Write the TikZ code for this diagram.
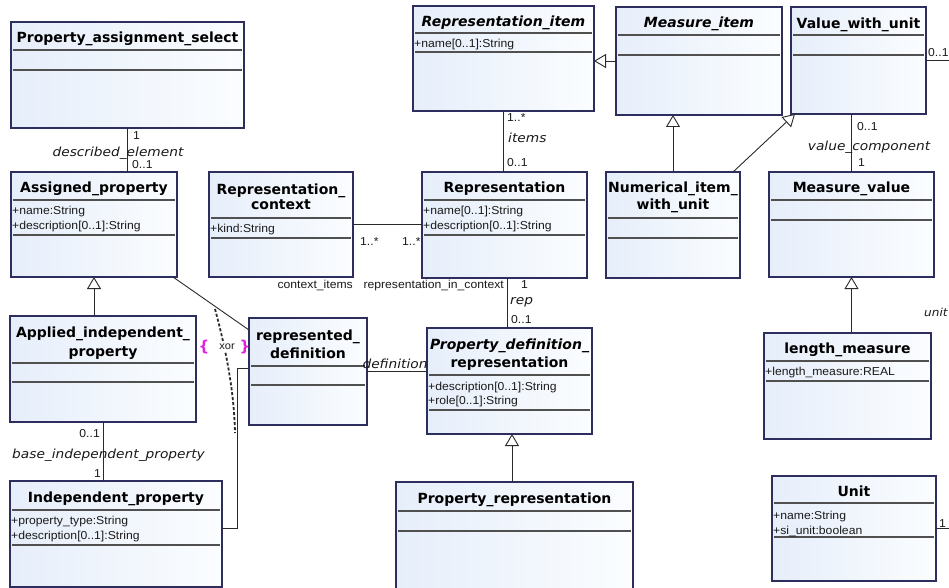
\documentclass[tikz,border=0pt]{standalone}
\usepackage{fontspec}
\setmainfont{Liberation Sans}
\newfontfamily\titlefont{DejaVu Sans}
\newfontfamily\rolefont{DejaVu Sans}[FakeStretch=1.1]
\newfontfamily\lblfont{Liberation Sans}[FakeStretch=1.06]
\usetikzlibrary{arrows.meta}
\definecolor{boxedge}{HTML}{2E2E5E}
\definecolor{boxfillA}{HTML}{E6EEFA}
\definecolor{boxfillB}{HTML}{FBFDFF}
\definecolor{sepgray}{HTML}{505050}
\definecolor{lnk}{HTML}{2A2A2A}
\definecolor{xorpink}{HTML}{E020E0}
\definecolor{txt}{HTML}{1A1A1A}
\tikzset{
  umlbox/.style={draw=boxedge, line width=1.1pt, left color=boxfillA, right color=boxfillB,
    inner sep=0pt, outer sep=0pt, rectangle},
  sepline/.style={draw=sepgray, line width=1.1pt},
  ttl/.style={font=\titlefont\bfseries\fontsize{14}{16}\selectfont, inner sep=0pt, anchor=base, text=black},
  ttli/.style={font=\titlefont\bfseries\itshape\fontsize{14}{16}\selectfont, inner sep=0pt, anchor=base, text=black},
  attr/.style={font=\lblfont\fontsize{11.5}{14}\selectfont, inner sep=0pt, anchor=base west, text=txt},
  mult/.style={font=\lblfont\fontsize{11.5}{14}\selectfont, inner sep=0pt, anchor=base west, text=txt},
  role/.style={font=\rolefont\itshape\fontsize{12.5}{14}\selectfont, inner sep=0pt, anchor=base west, text=txt},
  assoc/.style={draw=lnk, line width=0.9pt},
  gen/.style={draw=lnk, line width=0.9pt, -{Triangle[open, length=12pt, width=14pt, fill=white]}},
}
\newcommand\mkbox[7]{%
  \node[umlbox, minimum width={(#4-#2)*1pt}, minimum height={(#5-#3)*1pt}] (#1) at ({(#2+#4)/2},{(#3+#5)/2}) {};
  \draw[sepline] ({#2+2},#6) -- ({#4-2},#6);
  \draw[sepline] ({#2+2},#7) -- ({#4-2},#7);
}
\begin{document}
\begin{tikzpicture}[x=1pt,y=-1pt]
\useasboundingbox (0,0) rectangle (949,588);
\fill[white] (0,0) rectangle (949,588);
\clip (0,0) rectangle (949,588);

% boxes
\mkbox{PAS}{11}{22}{244}{128}{50}{70}
\mkbox{AP}{11}{172}{177}{277}{200}{235}
\mkbox{RC}{209}{172}{353}{277}{218}{238}
\mkbox{RI}{413}{6}{594}{111}{33}{52}
\mkbox{MI}{616}{7}{782}{115}{35}{55}
\mkbox{VWU}{791}{7}{926}{114}{35}{55}
\mkbox{R}{422}{172}{587}{278}{200}{235}
\mkbox{NIWU}{606}{172}{740}{278}{218}{238}
\mkbox{MV}{769}{172}{934}{277}{200}{220}
\mkbox{AIP}{10}{316}{196}{422}{363}{382}
\mkbox{RD}{249}{318}{367}{425}{366}{385}
\mkbox{PDR}{427}{328}{592}{434}{375}{410}
\mkbox{LM}{764}{333}{931}{439}{361}{381}
\mkbox{IP}{10}{481}{222}{587}{510}{545}
\mkbox{PR}{396}{482}{633}{600}{511}{531}
\mkbox{UN}{772}{476}{936}{581}{503}{537}

% titles
\node[ttl] (tPAS) at (127.5,43) {Property\_assignment\_select};
\node[ttl] (tAP) at (94,192) {Assigned\_property};
\node[ttl] (tRC1) at (281,194) {Representation\_};
\node[ttl] (tRC2) at (281,209) {context};
\node[ttli] (tRI) at (503.5,27) {Representation\_item};
\node[ttli] (tMI) at (699,28) {Measure\_item};
\node[ttl] (tVWU) at (858.5,29) {Value\_with\_unit};
\node[ttl] (tR) at (504.5,192) {Representation};
\node[ttl] (tNIWU1) at (673,193) {Numerical\_item\_};
\node[ttl] (tNIWU2) at (673,209) {with\_unit};
\node[ttl] (tMV) at (851.5,192) {Measure\_value};
\node[ttl] (tAIP1) at (103,337) {Applied\_independent\_};
\node[ttl] (tAIP2) at (103,356) {property};
\node[ttl] (tRD1) at (308,340) {represented\_};
\node[ttl] (tRD2) at (308,358) {definition};
\node[ttli] (tPDR1) at (509.5,349) {Property\_definition\_};
\node[ttl] (tPDR2) at (509.5,367) {representation};
\node[ttl] (tLM) at (847.5,353) {length\_measure};
\node[ttl] (tIP) at (116,502) {Independent\_property};
\node[ttl] (tPR) at (514.5,503) {Property\_representation};
\node[ttl] (tUN) at (854,496) {Unit};

% attributes
\node[attr] (aAP1) at (12,214) {+name:String};
\node[attr] (aAP2) at (12,229) {+description[0..1]:String};
\node[attr] (aRC1) at (210,232) {+kind:String};
\node[attr] (aRI1) at (414,48) {+name[0..1]:String};
\node[attr] (aR1) at (423,214) {+name[0..1]:String};
\node[attr] (aR2) at (423,229) {+description[0..1]:String};
\node[attr] (aPDR1) at (428,390) {+description[0..1]:String};
\node[attr] (aPDR2) at (428,404) {+role[0..1]:String};
\node[attr] (aLM1) at (765,375) {+length\_measure:REAL};
\node[attr] (aIP1) at (11,524) {+property\_type:String};
\node[attr] (aIP2) at (11,539) {+description[0..1]:String};
\node[attr] (aUN1) at (773,519) {+name:String};
\node[attr] (aUN2) at (773,534) {+si\_unit:boolean};

% connectors
\draw[assoc] (PAS.south) -- (PAS.south |- AP.north);
\draw[assoc] (RI.south) -- (RI.south |- R.north);
\draw[assoc] (RC.east) -- (RC.east -| R.west);
\draw[gen] (MI.west) -- (MI.west -| RI.east);
\draw[gen] (NIWU.north) -- (NIWU.north |- MI.south);
\draw[gen] ([xshift=-7pt]NIWU.north east) -- ([xshift=4pt]VWU.south west);
\draw[assoc] (MV.north) -- (MV.north |- VWU.south);
\draw[gen] (MV.south |- LM.north) -- (MV.south);
\draw[gen] (AP.south |- AIP.north) -- (AP.south);
\draw[assoc] (AIP.south) -- (AIP.south |- IP.north);
\draw[assoc] ([xshift=-4pt]AP.south east) -- ([yshift=-12pt]RD.north west);
\draw[assoc] ([yshift=6pt]IP.east) -- ++(15,0) |- ([yshift=3.5pt]RD.west);
\draw[assoc] (RD.east) -- (RD.east -| PDR.west);
\draw[assoc] ([xshift=2.5pt]R.south) -- ([xshift=2.5pt]R.south |- PDR.north);
\draw[gen] ([xshift=2.5pt]PDR.south |- PR.north) -- ([xshift=2.5pt]PDR.south);
\draw[assoc] (VWU.east) -- ++(34,0) |- (UN.east);

% xor constraint
\coordinate (xa) at (215,309);
\coordinate (xb) at (235,433);
\draw[lnk, line width=1.8pt, dash pattern=on 3pt off 2pt] (xa) .. controls (226,350) and (234,390) .. (xb);
\node[font=\lblfont\fontsize{10.5}{12}\selectfont, fill=white, inner sep=1pt, text=txt] (xorlbl) at (227,347) {xor};
\node[font=\titlefont\bfseries\fontsize{15}{16}\selectfont, text=xorpink, inner sep=0pt] (xl) at (204,347) {\{};
\node[font=\titlefont\bfseries\fontsize{15}{16}\selectfont, text=xorpink, inner sep=0pt] (xr) at (245,347) {\}};

% labels
\node[mult] (m1) at (133,140) {1};
\node[role, anchor=base] (r1) at (118,157) {described\_element};
\node[mult] (m2) at (132,168) {0..1};
\node[mult] (m3) at (507,122) {1..*};
\node[role] (r2) at (508,143) {items};
\node[mult] (m4) at (507,167) {0..1};
\node[mult] (m5) at (360,245) {1..*};
\node[mult] (m6) at (402,245) {1..*};
\node[mult] (m7) at (857,131) {0..1};
\node[role, anchor=base] (r3) at (869,150) {value\_component};
\node[mult] (m8) at (858,167) {1};
\node[mult] (m9) at (928,57) {0..1};
\node[role, font=\rolefont\itshape\fontsize{11}{13}\selectfont] (r4) at (924,316) {unit};
\node[mult] (m10) at (939,527) {1};
\node[mult, anchor=base east] (m11) at (100,437) {0..1};
\node[role] (r5) at (12,458) {base\_independent\_property};
\node[mult] (m12) at (94,477) {1};
\node[mult, anchor=base east] (l1) at (353,288) {context\_items};
\node[mult, anchor=base east] (l2) at (504,288) {representation\_in\_context};
\node[mult] (m13) at (521,288) {1};
\node[role] (r6) at (510,304) {rep};
\node[mult] (m14) at (511,323) {0..1};
\node[role, anchor=base] (r7) at (395,368) {definition};
\end{tikzpicture}
\end{document}
